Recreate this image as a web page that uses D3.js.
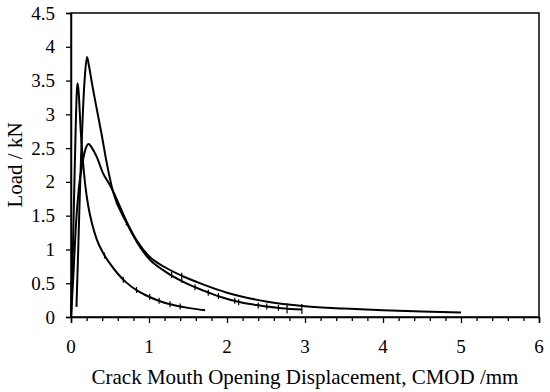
<!DOCTYPE html>
<html>
<head>
<meta charset="utf-8">
<script src="https://cdn.jsdelivr.net/npm/d3@7"></script>
<style>
  html, body { margin: 0; padding: 0; background: #fff; }
  svg { display: block; }
</style>
</head>
<body>
<svg id="chart" width="550" height="392"></svg>
<script>
// ---- data (CMOD in mm, Load in kN) ----
const curveA = [
  [0, 0], [0.02, 0.8], [0.04, 1.8], [0.06, 2.8], [0.075, 3.35], [0.086, 3.46],
  [0.1, 3.3], [0.12, 2.85], [0.15, 2.35], [0.18, 1.98], [0.22, 1.65], [0.27, 1.38],
  [0.33, 1.15], [0.41, 0.95], [0.5, 0.79], [0.6, 0.64], [0.7, 0.52], [0.85, 0.39],
  [1.0, 0.3], [1.15, 0.23], [1.3, 0.18], [1.5, 0.135], [1.72, 0.1]
];
const curveB = [
  [0.07, 0.15], [0.09, 0.9], [0.11, 1.7], [0.13, 2.4], [0.155, 3.1], [0.18, 3.6],
  [0.205, 3.85], [0.23, 3.72], [0.27, 3.45], [0.33, 3.08], [0.39, 2.72], [0.45, 2.33],
  [0.54, 1.85], [0.71, 1.4], [0.85, 1.1], [1.0, 0.86], [1.2, 0.68], [1.44, 0.52],
  [1.7, 0.39], [1.91, 0.3], [2.2, 0.21], [2.42, 0.17], [2.7, 0.13], [2.96, 0.11]
];
const curveC = [
  [0, 0], [0.03, 0.6], [0.06, 1.3], [0.1, 1.9], [0.15, 2.3], [0.19, 2.5],
  [0.227, 2.56], [0.27, 2.5], [0.33, 2.37], [0.41, 2.13], [0.5, 1.95], [0.54, 1.86],
  [0.71, 1.42], [0.85, 1.12], [1.0, 0.9], [1.2, 0.74], [1.44, 0.6], [1.7, 0.48],
  [2.0, 0.36], [2.5, 0.23], [3.0, 0.16], [3.5, 0.125], [4.0, 0.1], [4.5, 0.08], [5.0, 0.065]
];
// small vertical marks seen on the curves [x, y, halfLength]
const marksA = [[0.43, 0.91, 3], [0.67, 0.55, 3], [0.84, 0.4, 3], [1.01, 0.3, 3], [1.13, 0.24, 3], [1.27, 0.19, 3], [1.4, 0.155, 3]];
const marksB = [[0.71, 1.4, 3], [1.29, 0.62, 3], [1.42, 0.58, 5], [1.59, 0.44, 3], [1.76, 0.36, 3], [1.89, 0.31, 3],
                [2.1, 0.24, 3], [2.15, 0.22, 3], [2.4, 0.17, 3], [2.51, 0.155, 3], [2.66, 0.135, 3], [2.77, 0.125, 5], [2.96, 0.12, 5]];

const xTicks = [0, 1, 2, 3, 4, 5, 6];
const xMinorTicks = d3.range(0, 30).map(i => i * 0.2).filter(v => Math.abs(v - Math.round(v)) > 1e-6);
const yTicks = [0, 0.5, 1, 1.5, 2, 2.5, 3, 3.5, 4, 4.5];
const xTitle = "Crack Mouth Opening Displacement, CMOD /mm";
const yTitle = "Load / kN";

// ---- layout ----
const svg = d3.select("#chart");
const m = { left: 71, right: 539, top: 13, bottom: 317 };
const x = d3.scaleLinear().domain([0, 6]).range([m.left, m.right]);
const y = d3.scaleLinear().domain([0, 4.5]).range([m.bottom, m.top]);
const serif = "Liberation Serif";

// frame
svg.append("rect")
  .attr("x", m.left).attr("y", m.top)
  .attr("width", m.right - m.left).attr("height", m.bottom - m.top)
  .attr("fill", "none").attr("stroke", "#000").attr("stroke-width", 1.5);

// x axis (ticks via d3 axis, labels drawn as text)
const xAxis = svg.append("g").attr("transform", `translate(0,${m.bottom})`)
  .call(d3.axisBottom(x).tickValues(xTicks).tickFormat("").tickSize(6));
xAxis.select(".domain").attr("stroke-width", 1.5);
xAxis.selectAll(".tick line").attr("stroke-width", 1.3);
const xMinor = svg.append("g").attr("transform", `translate(0,${m.bottom})`)
  .call(d3.axisBottom(x).tickValues(xMinorTicks).tickFormat("").tickSize(4));
xMinor.select(".domain").remove();
xMinor.selectAll(".tick line").attr("stroke-width", 1.3);
svg.append("g").selectAll("text").data(xTicks).join("text")
  .attr("x", d => x(d)).attr("y", 353)
  .attr("text-anchor", "middle")
  .attr("font-family", serif).attr("font-size", 19).attr("fill", "#000")
  .text(d => d3.format("d")(d));

// y axis
const yAxis = svg.append("g").attr("transform", `translate(${m.left},0)`)
  .call(d3.axisLeft(y).tickValues(yTicks).tickFormat("").tickSize(5));
yAxis.select(".domain").attr("stroke-width", 1.5);
yAxis.selectAll(".tick line").attr("stroke-width", 1.3);
svg.append("g").selectAll("text").data(yTicks).join("text")
  .attr("x", 55).attr("y", d => y(d) + 6.5)
  .attr("text-anchor", "end")
  .attr("font-family", serif).attr("font-size", 19).attr("fill", "#000")
  .text(d => String(d));

// titles
svg.append("text").attr("x", (m.left + m.right) / 2).attr("y", 384)
  .attr("text-anchor", "middle").attr("font-family", serif).attr("font-size", 21).text(xTitle);
svg.append("text").attr("transform", `translate(22,${(m.top + m.bottom) / 2}) rotate(-90)`)
  .attr("text-anchor", "middle").attr("font-family", serif).attr("font-size", 21).text(yTitle);

// curves
const line = d3.line().x(d => x(d[0])).y(d => y(d[1])).curve(d3.curveMonotoneX);
[curveA, curveB, curveC].forEach(c => {
  svg.append("path").datum(c).attr("d", line)
    .attr("fill", "none").attr("stroke", "#000").attr("stroke-width", 2);
});
[...marksA, ...marksB].forEach(mk => {
  svg.append("line")
    .attr("x1", x(mk[0])).attr("x2", x(mk[0]))
    .attr("y1", y(mk[1]) - mk[2]).attr("y2", y(mk[1]) + mk[2])
    .attr("stroke", "#000").attr("stroke-width", 1.2);
});
</script>
</body>
</html>
